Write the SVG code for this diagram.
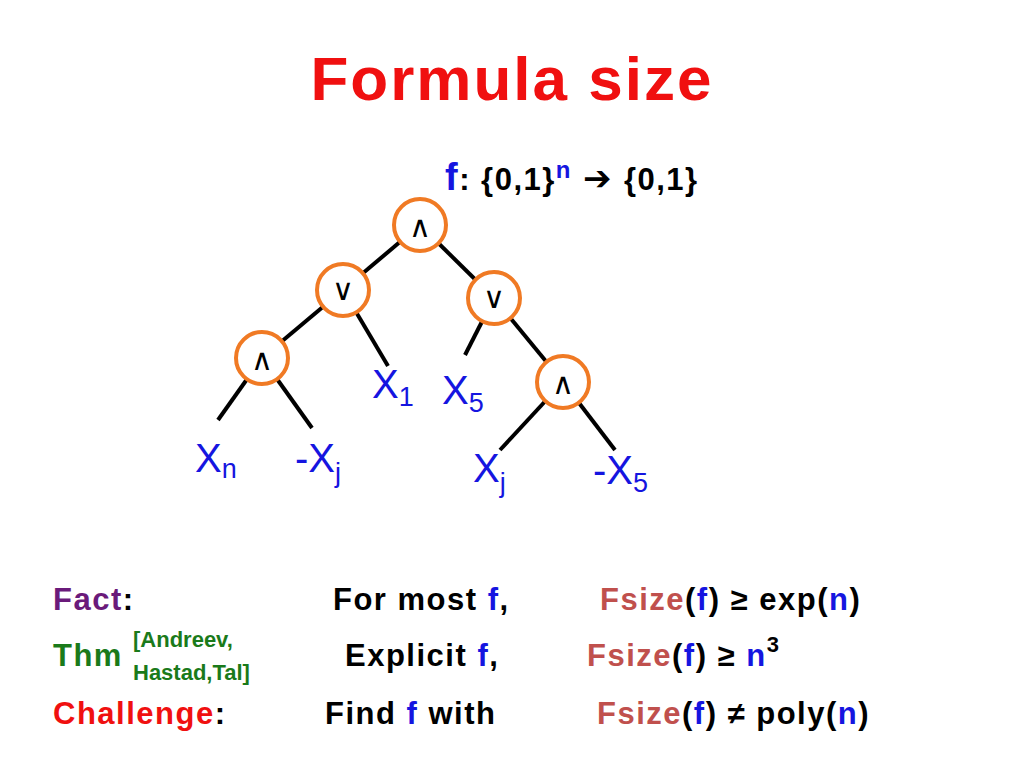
<svg xmlns="http://www.w3.org/2000/svg" width="1024" height="768" viewBox="0 0 1024 768">
<style>
text{font-family:"Liberation Sans","DejaVu Sans",sans-serif}
.node circle{fill:#fff;stroke:#f07a24;stroke-width:4}
.op{font-size:30px;text-anchor:middle;fill:#000}
.leaf{font-size:40px;fill:#1515e0}
.sub{font-size:27px}
.b{fill:#1515e0}
.fs{fill:#c0504d}
.row{font-size:31px;fill:#000;font-weight:bold;letter-spacing:1.5px}
#edges line{stroke:#000;stroke-width:4}
</style>
<rect width="1024" height="768" fill="#fff"/>
<text x="512" y="100" text-anchor="middle" font-size="62" font-weight="bold" fill="#f01010" letter-spacing="2">Formula size</text>
<text x="445" y="190" font-size="31" font-weight="bold" letter-spacing="1.5"><tspan class="b" font-size="38">f</tspan>: {0,1}<tspan class="b" dy="-12" font-size="24">n</tspan><tspan dy="12" font-size="34"> ➔ </tspan>{0,1}</text>
<g id="edges">
<line x1="420" y1="225" x2="343" y2="290"/>
<line x1="420" y1="225" x2="494" y2="298"/>
<line x1="343" y1="290" x2="262" y2="358"/>
<line x1="343" y1="290" x2="388" y2="366"/>
<line x1="494" y1="298" x2="465" y2="355"/>
<line x1="494" y1="298" x2="563" y2="382"/>
<line x1="262" y1="358" x2="218" y2="420"/>
<line x1="262" y1="358" x2="312" y2="428"/>
<line x1="563" y1="382" x2="500" y2="450"/>
<line x1="563" y1="382" x2="615" y2="450"/>
</g>
<g id="n1" class="node"><circle cx="420" cy="225" r="26"/><text class="op" x="420" y="237">∧</text></g>
<g id="n2" class="node"><circle cx="343" cy="290" r="26"/><text class="op" x="343" y="300">∨</text></g>
<g id="n3" class="node"><circle cx="494" cy="298" r="26"/><text class="op" x="494" y="308">∨</text></g>
<g id="n4" class="node"><circle cx="262" cy="358" r="26"/><text class="op" x="262" y="370">∧</text></g>
<g id="n5" class="node"><circle cx="563" cy="382" r="26"/><text class="op" x="563" y="394">∧</text></g>
<g id="l1"><text class="leaf" x="195" y="472">X<tspan class="sub" dy="6">n</tspan></text></g>
<g id="l2"><text class="leaf" x="295" y="472">-X<tspan class="sub" dy="10">j</tspan></text></g>
<g id="l3"><text class="leaf" x="372" y="398">X<tspan class="sub" dy="8">1</tspan></text></g>
<g id="l4"><text class="leaf" x="442" y="404">X<tspan class="sub" dy="8">5</tspan></text></g>
<g id="l5"><text class="leaf" x="473" y="482">X<tspan class="sub" dy="10">j</tspan></text></g>
<g id="l6"><text class="leaf" x="593" y="484">-X<tspan class="sub" dy="8">5</tspan></text></g>
<text class="row" x="53" y="610"><tspan fill="#6a1a7a">Fact</tspan>:</text>
<text class="row" x="333" y="610">For most <tspan class="b">f</tspan>,</text>
<text class="row" x="600" y="610"><tspan class="fs">Fsize</tspan>(<tspan class="b">f</tspan>) ≥ exp(<tspan class="b">n</tspan>)</text>
<text class="row" x="53" y="666" style="fill:#1a7a1a">Thm</text>
<text x="133" y="647" font-size="22" font-weight="bold" fill="#1a7a1a">[Andreev,</text>
<text x="133" y="680" font-size="22" font-weight="bold" fill="#1a7a1a">Hastad,Tal]</text>
<text class="row" x="345" y="666">Explicit <tspan class="b">f</tspan>,</text>
<text class="row" x="587" y="666"><tspan class="fs">Fsize</tspan>(<tspan class="b">f</tspan>) ≥ <tspan class="b">n</tspan><tspan dy="-14" font-size="22">3</tspan></text>
<text class="row" x="53" y="724"><tspan fill="#f01010">Challenge</tspan>:</text>
<text class="row" x="325" y="724">Find <tspan class="b">f</tspan> with</text>
<text class="row" x="597" y="724"><tspan class="fs">Fsize</tspan>(<tspan class="b">f</tspan>) ≠ poly(<tspan class="b">n</tspan>)</text>
</svg>
